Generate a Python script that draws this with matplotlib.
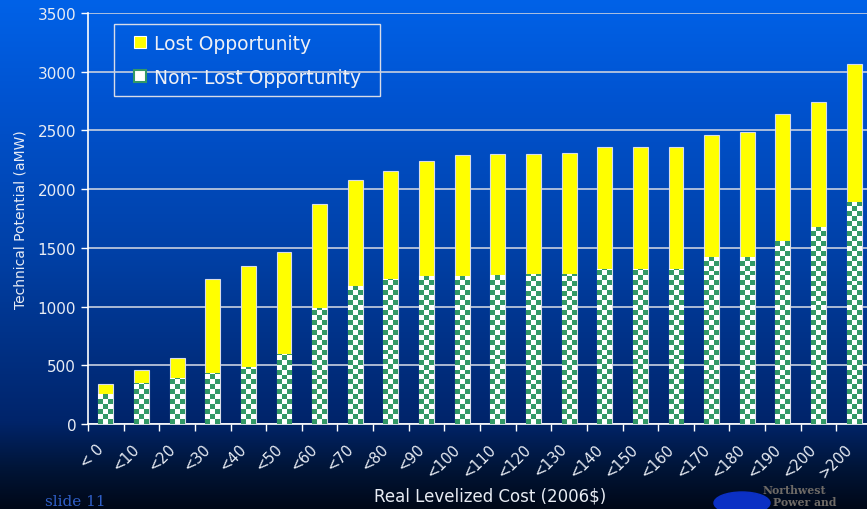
import numpy as np
import matplotlib
matplotlib.use("Agg")
import matplotlib.pyplot as plt
from matplotlib.colors import LinearSegmentedColormap, ListedColormap
from matplotlib.patches import Rectangle, Ellipse

# -----------------------------
# Datos
# -----------------------------
categorias = ["< 0", "<10", "<20", "<30", "<40", "<50", "<60", "<70", "<80", "<90",
              "<100", "<110", "<120", "<130", "<140", "<150", "<160", "<170",
              "<180", "<190", "<200", ">200"]
no_perdida = [255, 350, 390, 435, 483, 594, 985, 1178, 1235, 1263, 1263, 1269,
              1275, 1275, 1320, 1320, 1320, 1425, 1425, 1561, 1675, 1893]
total = [340, 462, 560, 1235, 1348, 1467, 1870, 2080, 2157, 2243, 2291, 2302,
         2302, 2310, 2356, 2356, 2356, 2461, 2490, 2640, 2745, 3063]
perdida = [t - n for t, n in zip(total, no_perdida)]

W, H = 867, 510
fig = plt.figure(figsize=(W / 100, H / 100), dpi=100)

# fondo degradado
bg = fig.add_axes([0, 0, 1, 1], zorder=0)
cmap_bg = LinearSegmentedColormap.from_list(
    "bg", [(0.0, "#0062e8"), (0.2, "#0053d0"), (0.5, "#0040a6"),
           (0.83, "#00246a"), (0.92, "#001538"), (1.0, "#000818")])
bg.imshow(np.linspace(0, 1, 256).reshape(-1, 1), aspect="auto", cmap=cmap_bg,
          extent=[0, 1, 0, 1], origin="upper")
bg.set_xlim(0, 1)
bg.set_ylim(0, 1)
bg.set_axis_off()

# logo (aproximado)
bg.add_patch(Ellipse((742 / W, 1 - 504 / H), 56 / W, 22 / H, color="#0b30c4", zorder=2))

# marco de la leyenda
bg.add_patch(Rectangle((114 / W, 1 - 97 / H), 266 / W, 72 / H, facecolor="none",
                       edgecolor="#d8dce8", linewidth=1.0, zorder=2))

ax = fig.add_axes([88 / W, 85 / H, 784 / W, 411 / H], zorder=1)
ax.set_facecolor("none")

x = np.arange(len(categorias))
ancho = 0.42
verde = "#339966"
borde = "#d8dce8"

barras_np = ax.bar(x, no_perdida, ancho, color="white", edgecolor=borde,
                   linewidth=0.8, zorder=3)
ax.bar(x, perdida, ancho, bottom=no_perdida, color="#ffff00", edgecolor=borde,
       linewidth=0.8, zorder=3)

# patron de tablero de ajedrez en las barras no perdidas
celda_y = 42.0
n_cols = 3
cmap_chk = ListedColormap(["white", verde])
for xi, v, b in zip(x, no_perdida, barras_np):
    n_rows = int(v / celda_y) + 1
    ii, jj = np.indices((n_rows, n_cols))
    chk = (ii + jj + 1) % 2
    im = ax.imshow(chk, cmap=cmap_chk, interpolation="nearest", aspect="auto",
                   origin="lower", zorder=3.5,
                   extent=[xi - ancho / 2, xi + ancho / 2, 0, n_rows * celda_y])
    im.set_clip_path(b)

ax.set_xlim(-0.5, len(categorias) - 0.5)
ax.set_ylim(0, 3500)
ax.set_yticks(np.arange(0, 3501, 500))
ax.grid(axis="y", color="#c8d0e0", linewidth=1.2, zorder=1)
ax.set_axisbelow(True)

for s in ["top", "right"]:
    ax.spines[s].set_visible(False)
for s in ["left", "bottom"]:
    ax.spines[s].set_color("white")
    ax.spines[s].set_linewidth(1.2)

# etiquetas un poco a la izquierda del centro de cada categoria
ax.set_xticks(x - 0.27)
ax.set_xticks(np.arange(len(categorias)) - 0.5, minor=True)
ax.set_xticklabels(categorias, rotation=45, ha="right", va="top",
                   rotation_mode="anchor", color="#e8ecf4", fontsize=10.5)
ax.tick_params(axis="x", which="major", length=0, pad=12)
ax.tick_params(axis="x", which="minor", length=5, color="white", width=1)
ax.tick_params(axis="y", length=5, color="white", width=1,
               labelcolor="#e8ecf4", labelsize=11)

ax.set_ylabel("Technical Potential (aMW)", color="#e8ecf4", fontsize=10, labelpad=7)
fig.text(490 / W, 1 - 497 / H, "Real Levelized Cost (2006$)", color="#e8ecf4",
         fontsize=12, ha="center", va="center")

# leyenda
h1 = Rectangle((0, 0), 1, 1, facecolor="#ffff00", edgecolor="white", linewidth=0.8)
h2 = Rectangle((0, 0), 1, 1, facecolor="white", edgecolor=verde, linewidth=1.5)
leg = fig.legend([h1, h2], ["Lost Opportunity", "Non- Lost Opportunity"],
                 loc="upper left", bbox_to_anchor=(134 / W, 1 - 35 / H),
                 frameon=False, fontsize=13.5, handlelength=0.62,
                 handleheight=0.62, handletextpad=0.45, labelspacing=0.8,
                 borderpad=0, borderaxespad=0)
for t in leg.get_texts():
    t.set_color("#eef0f6")

# pie de diapositiva
fig.text(45 / W, 1 - 502 / H, "slide 11", color="#2f5fc8", fontsize=11,
         family="serif", ha="left", va="center")
fig.text(763 / W, 1 - 491 / H, "Northwest", color="#6e6a66", fontsize=7.8,
         family="serif", weight="bold", ha="left", va="center")
fig.text(773 / W, 1 - 503 / H, "Power and", color="#6e6a66", fontsize=7.8,
         family="serif", weight="bold", ha="left", va="center")

fig.savefig("out.png", dpi=100)
